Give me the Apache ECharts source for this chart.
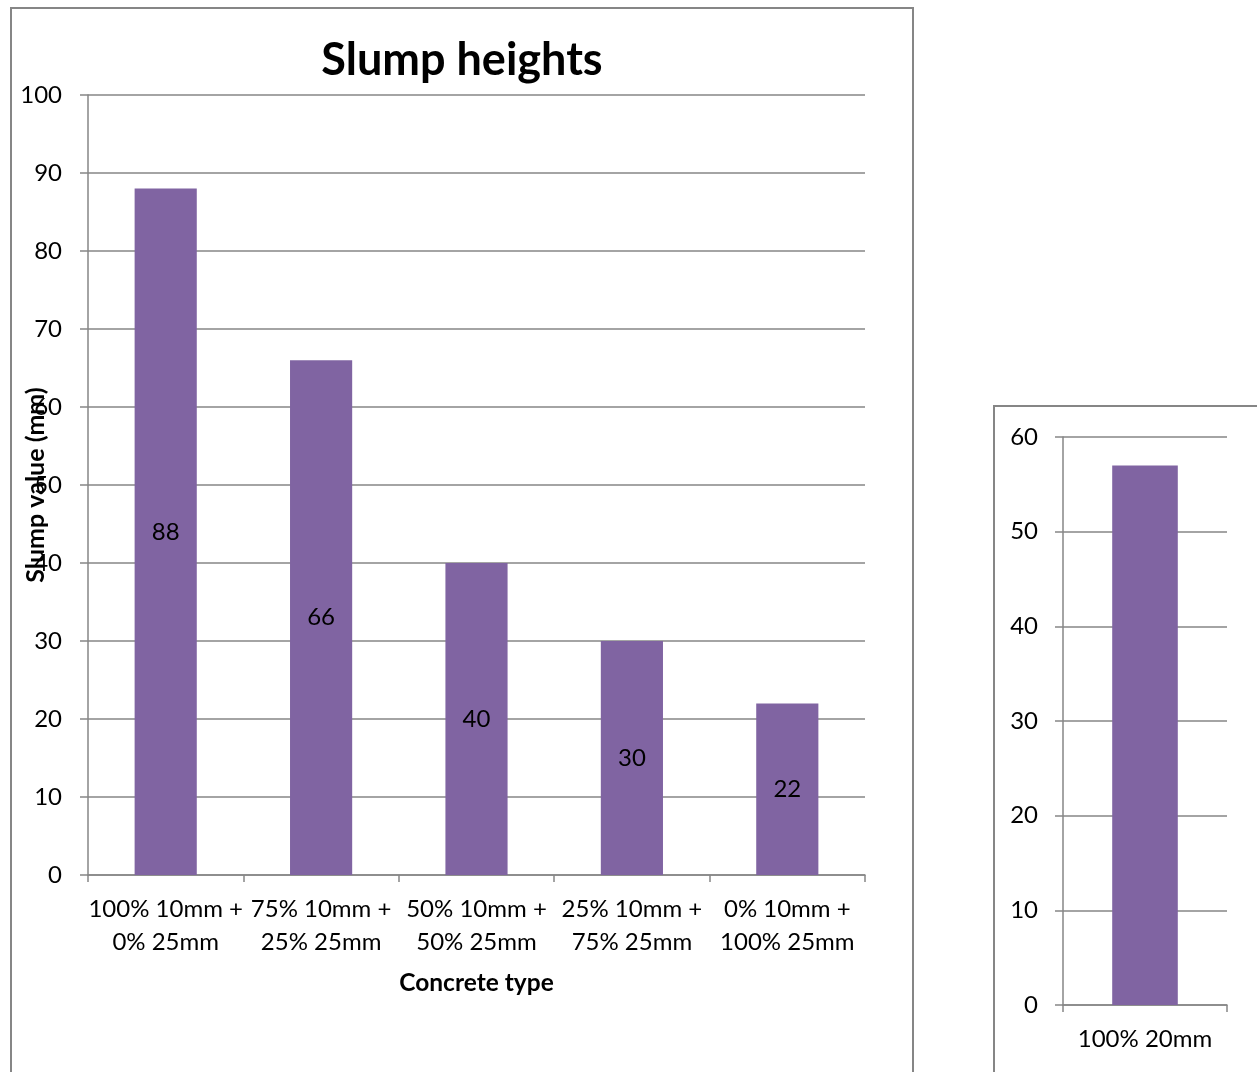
<!DOCTYPE html>
<html>
<head>
<meta charset="utf-8">
<script src="https://cdn.jsdelivr.net/npm/echarts@6/dist/echarts.min.js"></script>
<style>
  html, body { margin: 0; padding: 0; background: #fff; }
  #chart { width: 1257px; height: 1072px; }
</style>
</head>
<body>
<div id="chart"></div>
<script>
// Slump test results for the blended aggregate mixes
const mixCategories = [
  '100% 10mm +\n0% 25mm',
  '75% 10mm +\n25% 25mm',
  '50% 10mm +\n50% 25mm',
  '25% 10mm +\n75% 25mm',
  '0% 10mm +\n100% 25mm'
];
const mixSlump = [88, 66, 40, 30, 22];

// Single-size reference mix
const singleCategories = ['100% 20mm'];
const singleSlump = [57];

const FONT = 'Lato, "Open Sans", sans-serif';
const GRID_COLOR = '#868686';
const BAR_COLOR = '#8064A2';
const TEXT_SIZE = 24;

const chart = echarts.init(document.getElementById('chart'), null, { renderer: 'canvas' });

const lineStyle = { color: GRID_COLOR, width: 1.5 };
const tickLabel = { fontFamily: FONT, fontSize: TEXT_SIZE, color: '#000' };

chart.setOption({
  animation: false,
  textStyle: { fontFamily: FONT },
  graphic: [
    {
      type: 'rect', silent: true, z: -1,
      shape: { x: 11, y: 8, width: 902, height: 1100 },
      style: { fill: '#fff', stroke: GRID_COLOR, lineWidth: 2 }
    },
    {
      type: 'rect', silent: true, z: -1,
      shape: { x: 994, y: 406, width: 300, height: 700 },
      style: { fill: '#fff', stroke: GRID_COLOR, lineWidth: 2 }
    },
    {
      type: 'text', silent: true,
      x: 462, y: 60,
      style: {
        text: 'Slump heights',
        font: 'bold 45px ' + FONT,
        fill: '#000',
        textAlign: 'center',
        textVerticalAlign: 'middle'
      }
    }
  ],
  grid: [
    { left: 88, top: 95, width: 777, height: 780, outerBoundsMode: 'none', containLabel: false },
    { left: 1063, top: 437, width: 164, height: 568, outerBoundsMode: 'none', containLabel: false }
  ],
  xAxis: [
    {
      type: 'category', gridIndex: 0, data: mixCategories,
      name: 'Concrete type', nameLocation: 'middle', nameGap: 96, nameMoveOverlap: false,
      nameTextStyle: { fontFamily: FONT, fontWeight: 'bold', fontSize: 24.5, color: '#000' },
      axisLine: { show: true, lineStyle: lineStyle },
      axisTick: { show: true, length: 7, lineStyle: lineStyle },
      axisLabel: Object.assign({ lineHeight: 33, margin: 18, interval: 0 }, tickLabel)
    },
    {
      type: 'category', gridIndex: 1, data: singleCategories,
      axisLine: { show: true, lineStyle: lineStyle },
      axisTick: { show: true, length: 7, lineStyle: lineStyle },
      axisLabel: Object.assign({ margin: 22 }, tickLabel)
    }
  ],
  yAxis: [
    {
      type: 'value', gridIndex: 0, min: 0, max: 100, interval: 10,
      name: 'Slump value (mm)', nameLocation: 'middle', nameGap: 40, nameMoveOverlap: false,
      nameTextStyle: { fontFamily: FONT, fontWeight: 'bold', fontSize: 25, color: '#000' },
      axisLine: { show: true, lineStyle: lineStyle },
      axisTick: { show: true, length: 8, lineStyle: lineStyle },
      axisLabel: Object.assign({ margin: 26 }, tickLabel),
      splitLine: { show: true, lineStyle: lineStyle }
    },
    {
      type: 'value', gridIndex: 1, min: 0, max: 60, interval: 10,
      axisLine: { show: true, lineStyle: lineStyle },
      axisTick: { show: true, length: 8, lineStyle: lineStyle },
      axisLabel: Object.assign({ margin: 25 }, tickLabel),
      splitLine: { show: true, lineStyle: lineStyle }
    }
  ],
  series: [
    {
      type: 'bar', xAxisIndex: 0, yAxisIndex: 0, data: mixSlump,
      barCategoryGap: '60%',
      itemStyle: { color: BAR_COLOR },
      label: { show: true, position: 'inside', fontFamily: FONT, fontSize: TEXT_SIZE, color: '#000' }
    },
    {
      type: 'bar', xAxisIndex: 1, yAxisIndex: 1, data: singleSlump,
      barCategoryGap: '60%',
      itemStyle: { color: BAR_COLOR }
    }
  ]
});
</script>
</body>
</html>
